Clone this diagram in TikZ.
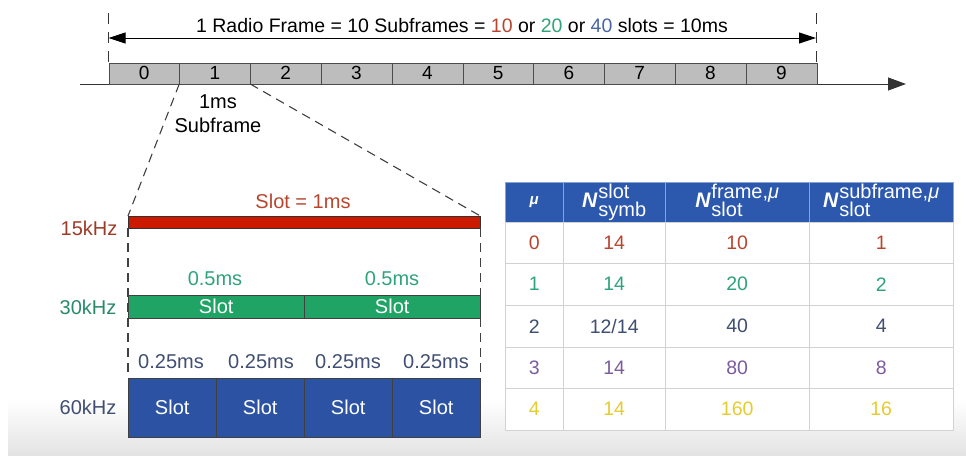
\documentclass[tikz,border=0pt]{standalone}
\usepackage{fontspec}
\setmainfont{Liberation Sans}
\usetikzlibrary{arrows.meta}

\definecolor{sfgrey}{HTML}{BDBDBD}
\definecolor{slotred}{HTML}{CC1A00}
\definecolor{slotgreen}{HTML}{1FA465}
\definecolor{slotblue}{HTML}{2B52A3}
\definecolor{headblue}{HTML}{2C58AD}
\definecolor{txtred}{HTML}{B8462E}
\definecolor{txtgreen}{HTML}{2FA37A}
\definecolor{txtblue}{HTML}{4A66A0}
\definecolor{txtslate}{HTML}{3F4E72}
\definecolor{txtpurple}{HTML}{7D5C9E}
\definecolor{txtyellow}{HTML}{E6CC2E}
\definecolor{gridgrey}{HTML}{D2D2D2}

\newcommand{\nhead}[2]{{\fontsize{21}{21}\selectfont\bfseries\itshape N}\hspace{1pt}{\fontsize{20}{13.5}\selectfont\mdseries\upshape\begin{tabular}[c]{@{}l@{}}#1\\#2\end{tabular}}}

\tikzset{
  sfbox/.style={draw=black!70, fill=sfgrey, minimum width=70.8pt, minimum height=21pt, inner sep=0pt, anchor=north west, font=\fontsize{19}{19}\selectfont},
  lbl/.style={font=\fontsize{20}{20}\selectfont, inner sep=0pt},
  slotbox/.style={draw=black!75, text=white, inner sep=0pt, anchor=north west, font=\fontsize{20}{20}\selectfont},
  cell/.style={draw=gridgrey, fill=white, inner sep=0pt, anchor=north west, font=\fontsize{19.5}{19.5}\selectfont},
  hcell/.style={draw=headblue!55!white, fill=headblue, text=white, inner sep=0pt, anchor=north west},
  guide/.style={dashed, dash pattern=on 9pt off 6pt, black!75, line width=1.1pt}
}

\begin{document}
\begin{tikzpicture}[x=1pt, y=-1pt]
\useasboundingbox (0,0) rectangle (966,455);
\shade[top color=white, bottom color=black!11] (8,400) rectangle (966,455);

% radio frame
\coordinate (fl) at (108.5,38); \coordinate (fr) at (816,38);
\draw[dashed, dash pattern=on 11pt off 8pt, black!80, line width=1pt] (108.5,13) -- (108.5,62) (816,13) -- (816,62);
\draw[{Triangle[length=17pt,width=11pt]}-{Triangle[length=17pt,width=11pt]}, line width=0.9pt] (fl) -- (fr);
\node[lbl, font=\fontsize{19.5}{19.5}\selectfont] (title) at (462,26) {1 Radio Frame = 10 Subframes = \textcolor{txtred}{10} or \textcolor{txtgreen}{20} or \textcolor{txtblue}{40} slots = 10ms};

\coordinate (ax0) at (80,84); \coordinate (ax1) at (906,84);
\draw[-{Triangle[length=18pt,width=13pt]}, line width=1pt, black!80] (ax0) -- (ax1);

\node[sfbox] (sf0) at (108.5,62.5) {0}; \node[sfbox] (sf1) at (179.3,62.5) {1};
\node[sfbox] (sf2) at (250.1,62.5) {2}; \node[sfbox] (sf3) at (320.9,62.5) {3};
\node[sfbox] (sf4) at (391.7,62.5) {4}; \node[sfbox] (sf5) at (462.5,62.5) {5};
\node[sfbox] (sf6) at (533.3,62.5) {6}; \node[sfbox] (sf7) at (604.1,62.5) {7};
\node[sfbox] (sf8) at (674.9,62.5) {8}; \node[sfbox] (sf9) at (745.7,62.5) {9};

\node[lbl] (onems) at (218,102) {1ms};
\node[lbl] (subfr) at (218,125) {Subframe};

% slots per numerology
\node[slotbox, draw=black!80, fill=slotred, minimum width=352pt, minimum height=12pt] (b15) at (128,216) {};
\node[lbl, text=txtred] (s15) at (303,201) {Slot = 1ms};
\node[lbl, text=txtred!85!black] (f15) at (89,228) {15kHz};

\node[slotbox, fill=slotgreen, minimum width=176pt, minimum height=23pt] (b30a) at (128,295) {Slot};
\node[slotbox, fill=slotgreen, minimum width=176pt, minimum height=23pt] (b30b) at (304,295) {Slot};
\node[lbl, text=txtgreen] (h30a) at (215,279) {0.5ms}; \node[lbl, text=txtgreen] (h30b) at (392,279) {0.5ms};
\node[lbl, text=txtgreen!85!black] (f30) at (88,307) {30kHz};

\node[slotbox, fill=slotblue, minimum width=88pt, minimum height=59pt] (b60a) at (128,378) {Slot};
\node[slotbox, fill=slotblue, minimum width=88pt, minimum height=59pt] (b60b) at (216,378) {Slot};
\node[slotbox, fill=slotblue, minimum width=88pt, minimum height=59pt] (b60c) at (304,378) {Slot};
\node[slotbox, fill=slotblue, minimum width=88pt, minimum height=59pt] (b60d) at (392,378) {Slot};
\node[lbl, text=txtslate] (q1) at (171,362) {0.25ms}; \node[lbl, text=txtslate] (q2) at (261,362) {0.25ms};
\node[lbl, text=txtslate] (q3) at (348,362) {0.25ms}; \node[lbl, text=txtslate] (q4) at (436,362) {0.25ms};
\node[lbl, text=txtslate] (f60) at (88,407) {60kHz};

\draw[guide] (sf1.south west) -- (b15.north west);
\draw[guide] (sf2.south west) -- (b15.north east);
\draw[guide] (b15.south west) -- (b60a.north west);
\draw[guide] (b15.south east) -- (b60d.north east);

% numerology table
\node[hcell, minimum width=58pt, minimum height=40pt] (hmu) at (505,182) {\fontsize{15}{15}\selectfont\bfseries\itshape μ};
\node[hcell, minimum width=102pt, minimum height=40pt] (hsym) at (563,182) {\nhead{slot}{symb}};
\node[hcell, minimum width=144pt, minimum height=40pt] (hfr) at (665,182) {\nhead{frame,\textit{μ}}{slot}};
\node[hcell, minimum width=144pt, minimum height=40pt] (hsub) at (809,182) {\nhead{subframe,\textit{μ}}{slot}};

\node[cell, minimum width=58pt, minimum height=41pt, text=txtred] (m0) at (505,222) {0}; \node[cell, minimum width=102pt, minimum height=41pt, text=txtred] (y0) at (563,222) {14};
\node[cell, minimum width=144pt, minimum height=41pt, text=txtred] (r0) at (665,222) {10}; \node[cell, minimum width=144pt, minimum height=41pt, text=txtred] (u0) at (809,222) {1};
\node[cell, minimum width=58pt, minimum height=42pt, text=txtgreen] (m1) at (505,263) {1}; \node[cell, minimum width=102pt, minimum height=42pt, text=txtgreen] (y1) at (563,263) {14};
\node[cell, minimum width=144pt, minimum height=42pt, text=txtgreen] (r1) at (665,263) {20}; \node[cell, minimum width=144pt, minimum height=42pt, text=txtgreen] (u1) at (809,263) {2};
\node[cell, minimum width=58pt, minimum height=42pt, text=txtslate] (m2) at (505,305) {2}; \node[cell, minimum width=102pt, minimum height=42pt, text=txtslate] (y2) at (563,305) {12/14};
\node[cell, minimum width=144pt, minimum height=42pt, text=txtslate] (r2) at (665,305) {40}; \node[cell, minimum width=144pt, minimum height=42pt, text=txtslate] (u2) at (809,305) {4};
\node[cell, minimum width=58pt, minimum height=41pt, text=txtpurple] (m3) at (505,347) {3}; \node[cell, minimum width=102pt, minimum height=41pt, text=txtpurple] (y3) at (563,347) {14};
\node[cell, minimum width=144pt, minimum height=41pt, text=txtpurple] (r3) at (665,347) {80}; \node[cell, minimum width=144pt, minimum height=41pt, text=txtpurple] (u3) at (809,347) {8};
\node[cell, minimum width=58pt, minimum height=42pt, text=txtyellow] (m4) at (505,388) {4}; \node[cell, minimum width=102pt, minimum height=42pt, text=txtyellow] (y4) at (563,388) {14};
\node[cell, minimum width=144pt, minimum height=42pt, text=txtyellow] (r4) at (665,388) {160}; \node[cell, minimum width=144pt, minimum height=42pt, text=txtyellow] (u4) at (809,388) {16};
\end{tikzpicture}
\end{document}
